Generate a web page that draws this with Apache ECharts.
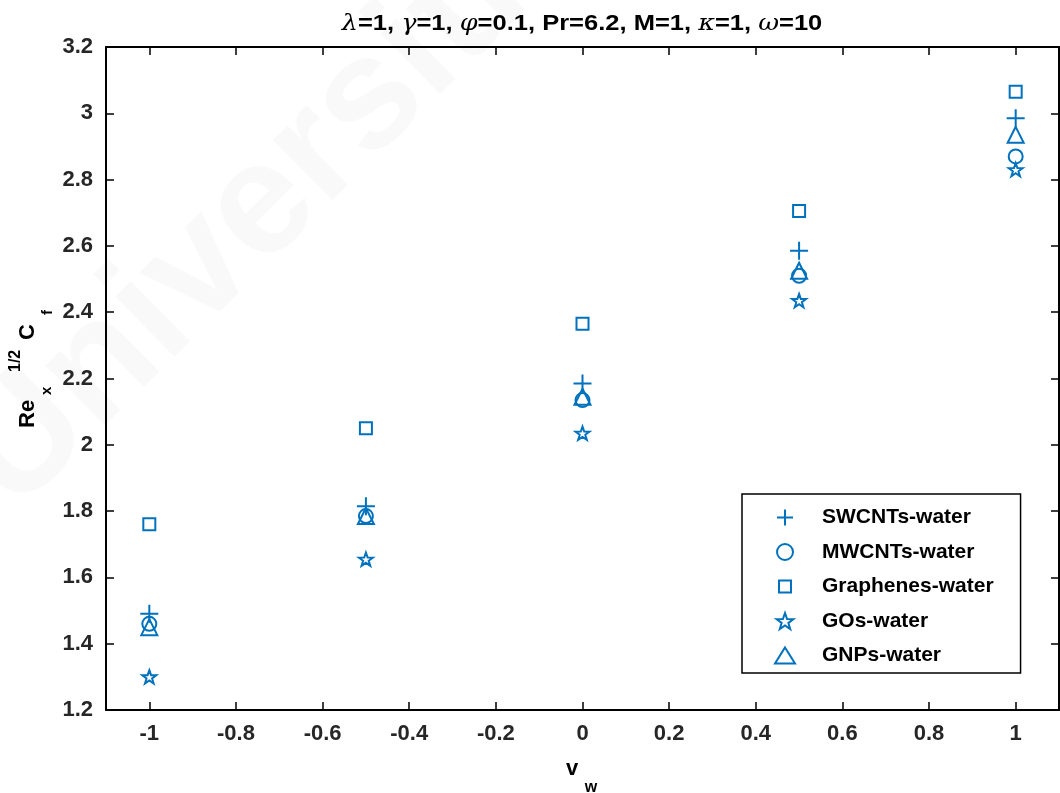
<!DOCTYPE html>
<html>
<head>
<meta charset="utf-8">
<script src="https://cdn.jsdelivr.net/npm/echarts@6/dist/echarts.min.js"></script>
<style>
html,body{margin:0;padding:0;background:#fff;}
#chart{width:1060px;height:793px;}
</style>
</head>
<body>
<div id="chart"></div>
<script>
// ---- data ----
const vw = [-1, -0.5, 0, 0.5, 1];
const swcnt = [1.49, 1.815, 2.185, 2.585, 2.985];
const mwcnt = [1.46, 1.785, 2.135, 2.51, 2.87];
const graphene = [1.76, 2.05, 2.365, 2.705, 3.065];
const gos = [1.30, 1.655, 2.035, 2.435, 2.83];
const gnps = [1.45, 1.785, 2.145, 2.525, 2.935];
const seriesNames = ['SWCNTs-water', 'MWCNTs-water', 'Graphenes-water', 'GOs-water', 'GNPs-water'];
const xTicks = [-1, -0.8, -0.6, -0.4, -0.2, 0, 0.2, 0.4, 0.6, 0.8, 1];
const yTicks = [1.2, 1.4, 1.6, 1.8, 2, 2.2, 2.4, 2.6, 2.8, 3, 3.2];
const titleText = '{g|λ}=1, {g|γ}=1, {g|φ}=0.1, Pr=6.2, M=1, {g|κ}=1, {g|ω}=10';

const BLUE = '#0072BD';
const FONT = 'Liberation Sans, Arial, sans-serif';
const plusPath = 'path://M10,0L10,20M0,10L20,10';
const starPath = 'path://M10,0L12.35,6.76L19.51,6.91L13.80,11.24L15.88,18.09L10,14L4.12,18.09L6.20,11.24L0.49,6.91L7.65,6.76Z';
const legendSquare = 'path://M-2,-2L-2,-2M14,14L14,14M0,0L12,0L12,12L0,12Z';
const legendTriangle = 'path://M10,0L20,16L0,16Z';

function pts(ys) { return vw.map((x, i) => [x, ys[i]]); }

const markerDefs = [
  { data: swcnt, symbol: plusPath, size: 18 },
  { data: mwcnt, symbol: 'circle', size: 14 },
  { data: graphene, symbol: 'rect', size: 12, legendIcon: legendSquare },
  { data: gos, symbol: starPath, size: 14 },
  { data: gnps, symbol: 'triangle', size: 16, legendIcon: legendTriangle }
];

const chart = echarts.init(document.getElementById('chart'), null, { renderer: 'canvas' });

const axisCommon = {
  type: 'value',
  axisLine: { show: true, onZero: false, lineStyle: { color: '#000', width: 2 } },
  axisTick: { show: true, inside: true, length: 8, lineStyle: { color: '#000', width: 1.5 } },
  splitLine: { show: false }
};

const option = {
  backgroundColor: '#fff',
  animation: false,
  grid: { left: 106, right: 1, top: 47, bottom: 83, containLabel: false },
  legend: {
    orient: 'vertical',
    left: 742, top: 494,
    backgroundColor: '#fff',
    borderColor: '#000', borderWidth: 1.5,
    padding: [13, 27, 7, 32],
    itemWidth: 64, itemHeight: 16, itemGap: 13.5,
    textStyle: { fontFamily: FONT, fontWeight: 'bold', fontSize: 21, lineHeight: 21, color: '#000' },
    data: seriesNames.map((n, i) => markerDefs[i].legendIcon ? { name: n, icon: markerDefs[i].legendIcon } : { name: n })
  },
  xAxis: [
    Object.assign({}, axisCommon, {
      min: -1.1, max: 1.1, position: 'bottom',
      axisTick: Object.assign({}, axisCommon.axisTick, { customValues: xTicks }),
      axisLabel: { customValues: xTicks, margin: 13, fontFamily: FONT, fontWeight: 'bold', fontSize: 22, color: '#262626' }
    }),
    Object.assign({}, axisCommon, {
      min: -1.1, max: 1.1, position: 'top',
      axisTick: Object.assign({}, axisCommon.axisTick, { customValues: xTicks }),
      axisLabel: { show: false }
    })
  ],
  yAxis: [
    Object.assign({}, axisCommon, {
      min: 1.2, max: 3.2, position: 'left',
      axisTick: Object.assign({}, axisCommon.axisTick, { customValues: yTicks }),
      axisLabel: { customValues: yTicks, margin: 13, fontFamily: FONT, fontWeight: 'bold', fontSize: 22, color: '#262626' }
    }),
    Object.assign({}, axisCommon, {
      min: 1.2, max: 3.2, position: 'right',
      axisTick: Object.assign({}, axisCommon.axisTick, { customValues: yTicks }),
      axisLabel: { show: false }
    })
  ],
  graphic: [
    {
      type: 'text', silent: true, z: -10,
      x: 40, y: 540, rotation: 0.78,
      style: { text: 'Universiti', font: 'bold 160px ' + FONT, fill: 'rgba(0,0,0,0.025)', textVerticalAlign: 'bottom' }
    },
    {
      type: 'text', x: 582, y: 24, scaleX: 1.16,
      style: {
        text: titleText, textAlign: 'center', textVerticalAlign: 'middle',
        font: 'bold 22px ' + FONT, fill: '#000',
        rich: { g: { fontFamily: 'DejaVu Serif, serif', fontStyle: 'italic', fontWeight: 'normal', fontSize: 22, fill: '#000' } }
      }
    },
    {
      type: 'group', x: 28, y: 428, rotation: Math.PI / 2,
      children: [
        { type: 'text', x: 0, y: 0, style: { text: 'Re', font: 'bold 22px ' + FONT, fill: '#000', textVerticalAlign: 'middle' } },
        { type: 'text', x: 33, y: 19, style: { text: 'x', font: 'bold 15px ' + FONT, fill: '#000', textVerticalAlign: 'middle' } },
        { type: 'text', x: 56, y: -12, style: { text: '1/2', font: 'bold 16px ' + FONT, fill: '#000', textVerticalAlign: 'middle' } },
        { type: 'text', x: 88, y: 0, style: { text: 'C', font: 'bold 22px ' + FONT, fill: '#000', textVerticalAlign: 'middle' } },
        { type: 'text', x: 113, y: 20, style: { text: 'f', font: 'bold 15px ' + FONT, fill: '#000', textVerticalAlign: 'middle' } }
      ]
    },
    {
      type: 'group', x: 572, y: 769,
      children: [
        { type: 'text', x: 0, y: 0, style: { text: 'v', font: 'bold 22px ' + FONT, fill: '#000', textAlign: 'center', textVerticalAlign: 'middle' } },
        { type: 'text', x: 19, y: 19, style: { text: 'w', font: 'bold 16px ' + FONT, fill: '#000', textAlign: 'center', textVerticalAlign: 'middle' } }
      ]
    }
  ],
  series: markerDefs.map((m, i) => ({
    name: seriesNames[i],
    type: 'scatter',
    data: pts(m.data),
    symbol: m.symbol,
    symbolSize: m.size,
    symbolKeepAspect: true,
    itemStyle: { color: 'rgba(0,0,0,0)', borderColor: BLUE, borderWidth: 2, opacity: 1 },
    emphasis: { disabled: true },
    z: 3 + i
  }))
};

chart.setOption(option);
</script>
</body>
</html>
